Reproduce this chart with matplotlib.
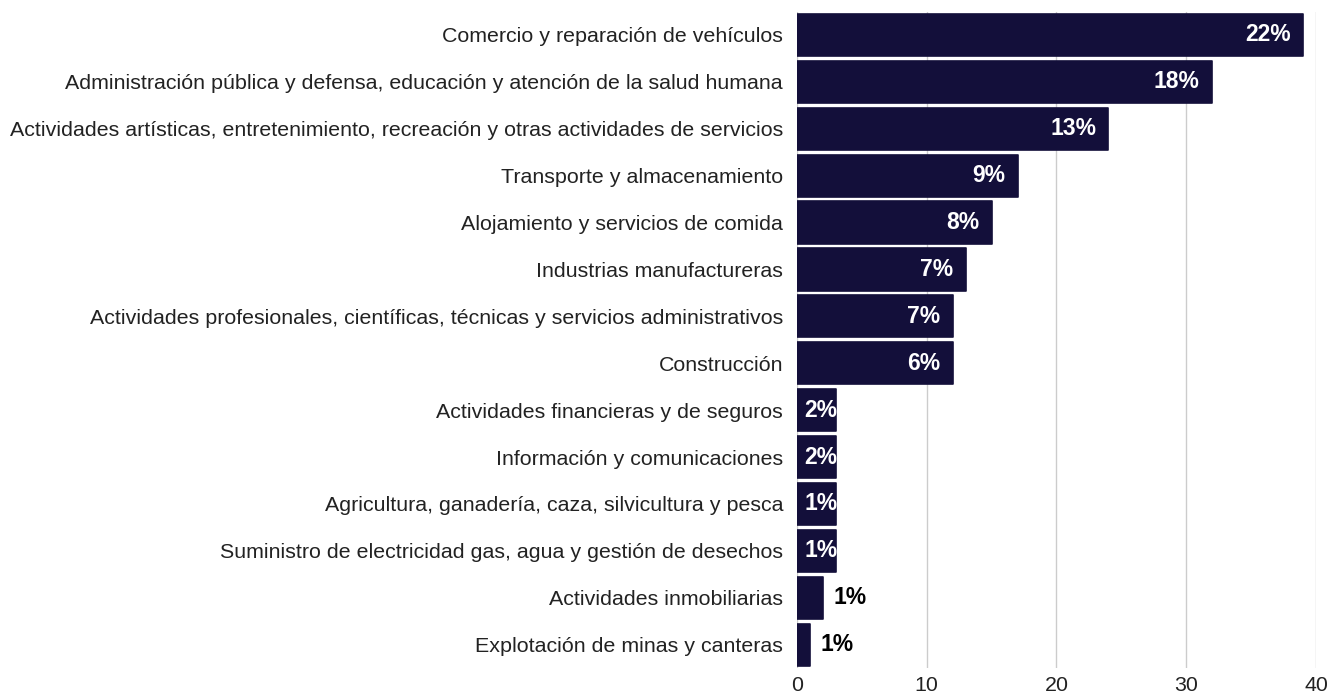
import matplotlib
matplotlib.use("Agg")
import matplotlib.pyplot as plt

plt.rcParams["font.family"] = ["Liberation Sans", "DejaVu Sans"]

categories = [
    "Comercio y reparación de vehículos",
    "Administración pública y defensa, educación y atención de la salud humana",
    "Actividades artísticas, entretenimiento, recreación y otras actividades de servicios",
    "Transporte y almacenamiento",
    "Alojamiento y servicios de comida",
    "Industrias manufactureras",
    "Actividades profesionales, científicas, técnicas y servicios administrativos",
    "Construcción",
    "Actividades financieras y de seguros",
    "Información y comunicaciones",
    "Agricultura, ganadería, caza, silvicultura y pesca",
    "Suministro de electricidad gas, agua y gestión de desechos",
    "Actividades inmobiliarias",
    "Explotación de minas y canteras",
]
values = [39, 32, 24, 17, 15, 13, 12, 12, 3, 3, 3, 3, 2, 1]
pct_labels = ["22%", "18%", "13%", "9%", "8%", "7%", "7%", "6%",
              "2%", "2%", "1%", "1%", "1%", "1%"]
xticks = [0, 10, 20, 30, 40]

BAR = "#130f3a"

fig = plt.figure(figsize=(13.29, 6.97), dpi=100)
ax = fig.add_axes([0.5997, 0.0415, 0.3905, 0.942])

y = list(range(len(categories)))
bars = ax.barh(y, values, height=0.9, color=BAR, edgecolor=BAR, linewidth=1.2, zorder=3)
for b in bars:
    b.set_joinstyle("round")

for yi, v, lab in zip(y, values, pct_labels):
    if v >= 5:
        ax.text(v - 0.95, yi, lab, ha="right", va="center", color="white",
                fontsize=16.5, fontweight="bold", zorder=4)
    elif v >= 3:
        ax.text(0.55, yi, lab, ha="left", va="center", color="white",
                fontsize=16.5, fontweight="bold", zorder=4)
    else:
        ax.text(v + 0.8, yi, lab, ha="left", va="center", color="black",
                fontsize=16.5, fontweight="bold", zorder=4)

ax.set_ylim(len(categories) - 0.5, -0.5)
ax.set_xlim(0, 40)
ax.set_yticks(y)
ax.set_yticklabels(categories, fontsize=15.4, color="#222222")
ax.set_xticks(xticks)
ax.set_xticklabels([str(t) for t in xticks], fontsize=15.4, color="#222222")
ax.tick_params(axis="y", length=0, pad=10)
ax.tick_params(axis="x", length=0, pad=6)
ax.grid(axis="x", color="#cccccc", linewidth=1, zorder=0)
for s in ("top", "right", "bottom", "left"):
    ax.spines[s].set_visible(False)

fig.savefig("out.png", dpi=100)
